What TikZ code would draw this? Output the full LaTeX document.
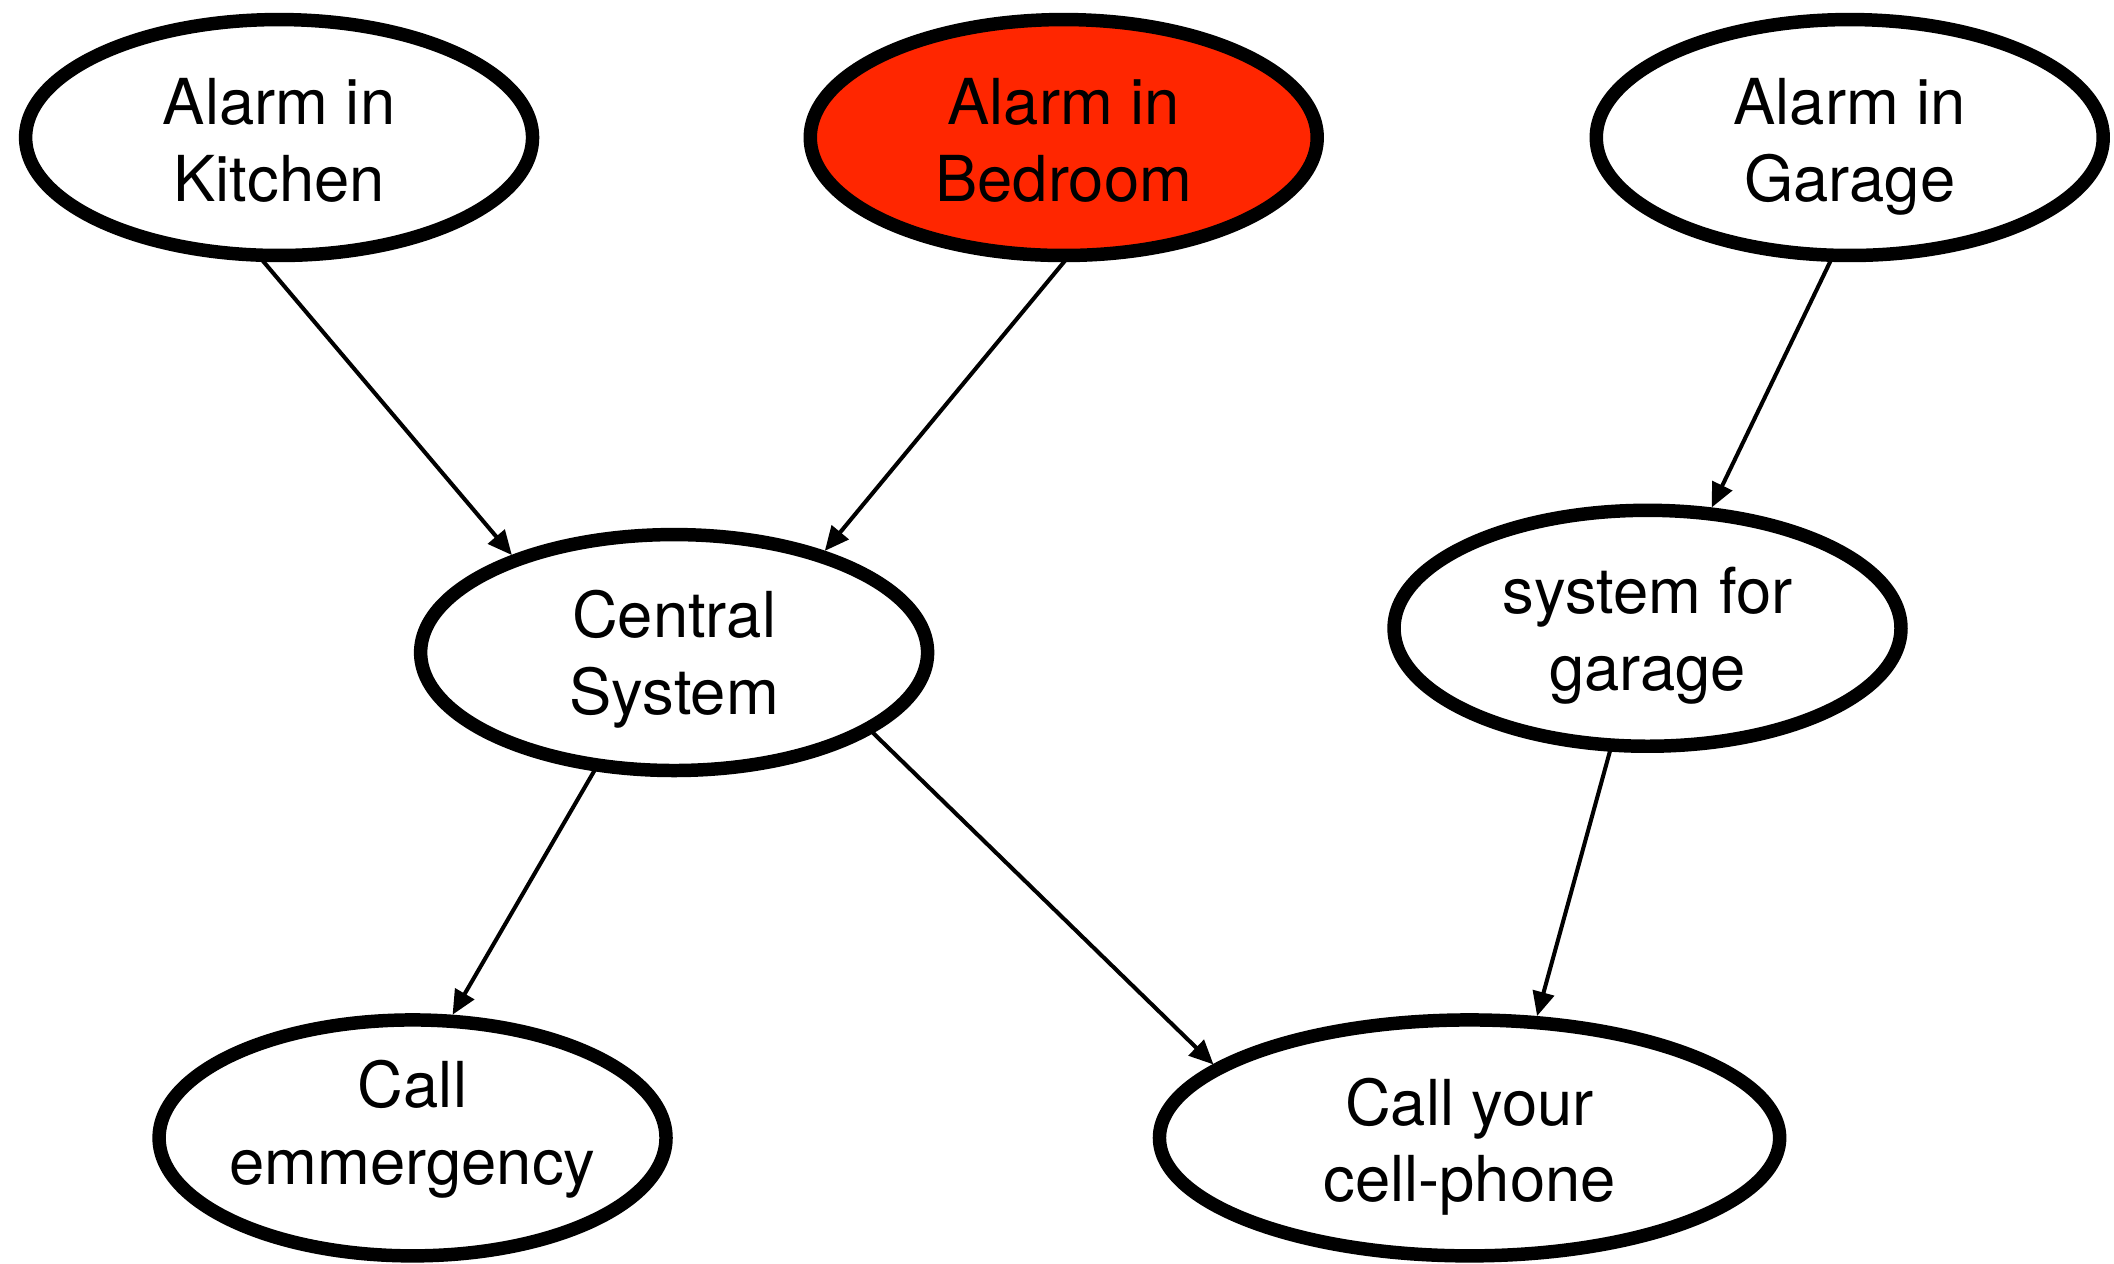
\documentclass[tikz,border=0pt]{standalone}
\usepackage{fontspec}
\setmainfont{TeX Gyre Heros}
\usetikzlibrary{shapes.geometric,arrows.meta}
\definecolor{alarmred}{RGB}{255,38,0}
\tikzset{
  ell/.style={ellipse, draw=black, line width=10pt, fill=white,
    minimum width=376pt, minimum height=175pt, inner sep=0pt},
  wideell/.style={ell, minimum width=460pt},
  lbl/.style={align=center, inner sep=0pt,
    font=\fontsize{47}{57}\selectfont},
  conn/.style={line width=3pt, -{Triangle[length=18pt,width=16pt]}, shorten <=-2pt}
}
\begin{document}
\begin{tikzpicture}[x=1pt,y=-1pt]
\useasboundingbox (0,0) rectangle (1568,937);
% ellipses
\node[ell] (kitchen) at (207,102) {};
\node[ell, fill=alarmred] (bedroom) at (789,102) {};
\node[ell] (garage) at (1372,102) {};
\node[ell] (central) at (500,484) {};
\node[ell] (sysgarage) at (1222,466) {};
\node[ell] (emerg) at (306,844) {};
\node[wideell] (cell) at (1090,844) {};
% labels
\node[lbl] (kitchenT) at (207,109.6) {Alarm in\strut\\Kitchen\strut};
\node[lbl] (bedroomT) at (789,109.6) {Alarm in\strut\\Bedroom\strut};
\node[lbl] (garageT) at (1372,109.6) {Alarm in\strut\\Garage\strut};
\node[lbl] (centralT) at (500,490) {Central\strut\\System\strut};
\node[lbl] (sysgarageT) at (1222,472) {system for\strut\\garage\strut};
\node[lbl] (emergT) at (306,838.6) {Call\strut\\emmergency\strut};
\node[lbl] (cellT) at (1090,851.6) {Call your\strut\\cell-phone\strut};
% connectors
\draw[conn] (kitchen.263) -- (central.149);
\draw[conn] (bedroom.270) -- (central.34);
\draw[conn] (garage.261.5) -- (sysgarage.62);
\draw[conn] (sysgarage.253) -- (cell.61);
\draw[conn] (central.236) -- (emerg.72);
\draw[conn] (central.338.5) -- (cell.164);
\end{tikzpicture}
\end{document}
